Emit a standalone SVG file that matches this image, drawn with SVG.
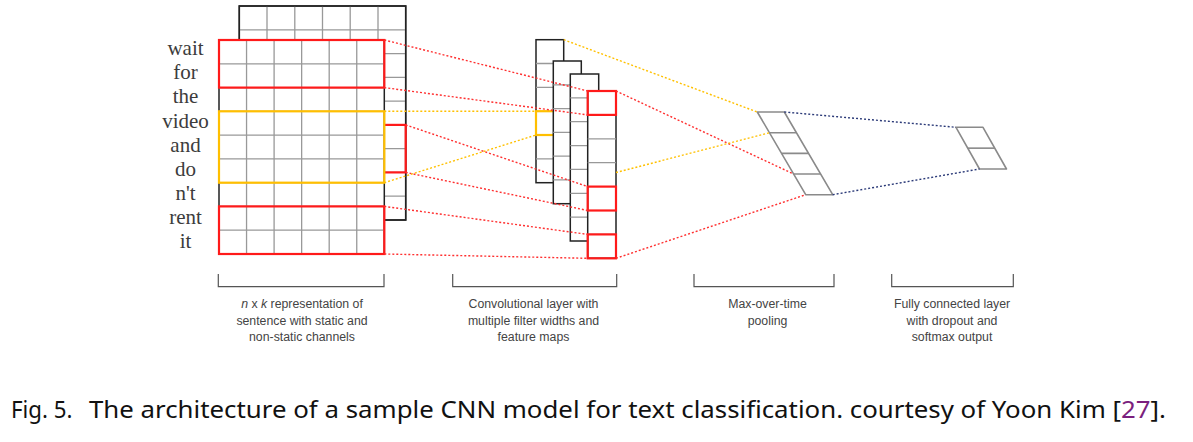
<svg xmlns="http://www.w3.org/2000/svg" width="1193" height="442" viewBox="0 0 1193 442">
<style>
.word{font-family:"Liberation Serif","DejaVu Serif",serif;font-size:21px;fill:#3c3c3c;text-anchor:middle}
.lbl{font-family:"Liberation Sans",Arial,sans-serif;font-size:12.3px;fill:#444;text-anchor:middle}
.cap{font-family:"Noto Sans","DejaVu Sans",sans-serif;font-size:23.4px;fill:#111}
.outline{fill:#fff;stroke:#222;stroke-width:1.5}
.grid{fill:none;stroke:#999;stroke-width:1.3}
.redbox{fill:none;stroke:#ff1a1a;stroke-width:2.2}
.yelbox{fill:none;stroke:#ffbf00;stroke-width:2.2}
.pool{fill:none;stroke:#8a8a8a;stroke-width:1.6;stroke-linejoin:round}
.br{fill:none;stroke:#555;stroke-width:1.2}
.dr{stroke:#ff3030;stroke-width:1.4;stroke-dasharray:2 2;fill:none}
.dy{stroke:#ffc000;stroke-width:1.4;stroke-dasharray:2 2;fill:none}
.dn{stroke:#2b3a78;stroke-width:1.4;stroke-dasharray:2 2;fill:none}
</style>
<rect width="1193" height="442" fill="#fff"/>

<g id="words">
<text class="word" x="185.5" y="55">wait</text>
<text class="word" x="185.5" y="79.2">for</text>
<text class="word" x="185.5" y="103.3">the</text>
<text class="word" x="185.5" y="127.5">video</text>
<text class="word" x="185.5" y="151.6">and</text>
<text class="word" x="185.5" y="175.8">do</text>
<text class="word" x="185.5" y="199.9">n't</text>
<text class="word" x="185.5" y="224">rent</text>
<text class="word" x="185.5" y="248.2">it</text>
</g>

<g id="static-channel">
<rect class="outline" x="239.3" y="6" width="166.4" height="214"/>
<path class="grid" d="M267,6V220M294.8,6V220M322.5,6V220M350.2,6V220M378,6V220M239.3,29.8H405.7M239.3,53.6H405.7M239.3,77.3H405.7M239.3,101.1H405.7M239.3,124.9H405.7M239.3,148.7H405.7M239.3,172.4H405.7M239.3,196.2H405.7"/>
<rect class="outline" x="239.3" y="6" width="166.4" height="214" style="fill:none"/>
<rect class="redbox" x="239.3" y="124.9" width="166.4" height="47.5"/>
</g>

<g id="nonstatic-channel">
<rect class="outline" x="219" y="40" width="165.3" height="214"/>
<path class="grid" d="M246.55,40V254M274.1,40V254M301.65,40V254M329.2,40V254M356.75,40V254M219,63.8H384.3M219,87.6H384.3M219,111.3H384.3M219,135.1H384.3M219,158.9H384.3M219,182.7H384.3M219,206.4H384.3M219,230.2H384.3"/>
<rect class="redbox" x="219" y="40" width="165.3" height="47.6"/>
<rect class="yelbox" x="219" y="111.3" width="165.3" height="71.4"/>
<rect class="redbox" x="219" y="206.4" width="165.3" height="47.6"/>
</g>

<g id="feature-map-1">
<rect class="outline" x="536" y="39.7" width="27.7" height="143"/>
<path class="grid" d="M536,63.5H563.7M536,87.4H563.7M536,135H563.7M536,158.9H563.7"/>
<rect class="yelbox" x="536" y="111.2" width="27.7" height="23.8"/>
</g>
<g id="feature-map-2">
<rect class="outline" x="553.3" y="61" width="28" height="142.7"/>
<path class="grid" d="M553.3,84.8H581.3M553.3,108.6H581.3M553.3,132.3H581.3M553.3,156.1H581.3M553.3,179.9H581.3"/>
</g>
<g id="feature-map-3">
<rect class="outline" x="570.3" y="74" width="28.4" height="167"/>
<path class="grid" d="M570.3,97.9H598.7M570.3,121.7H598.7M570.3,145.6H598.7M570.3,169.4H598.7M570.3,193.3H598.7M570.3,217.1H598.7"/>
</g>
<g id="feature-map-4">
<rect class="outline" x="587.7" y="91" width="28.3" height="167.3"/>
<path class="grid" d="M587.7,138.8H616M587.7,162.7H616M587.7,234.4H616"/>
<rect class="redbox" x="587.7" y="91" width="28.3" height="23.9"/>
<rect class="redbox" x="587.7" y="186.6" width="28.3" height="23.9"/>
<rect class="redbox" x="587.7" y="234.4" width="28.3" height="23.9"/>
</g>

<g id="max-pooling">
<polygon class="pool" points="757.3,112 784.3,112 832.7,194.7 805.7,194.7"/>
<path class="pool" d="M769.4,132.7H796.4M781.5,153.35H808.5M793.6,174H820.6"/>
</g>

<g id="fully-connected">
<polygon class="pool" points="956,127.3 983,127.3 1006.5,169 979.5,169"/>
<path class="pool" d="M967.75,148.15H994.75"/>
</g>

<g id="connectors">
<path class="dr" d="M384.3,40L587.7,91"/>
<path class="dr" d="M384.3,87.6L587.7,114.9"/>
<path class="dr" d="M405.7,124.9L587.7,186.6"/>
<path class="dr" d="M405.7,172.4L587.7,210.5"/>
<path class="dr" d="M384.3,206.4L587.7,234.4"/>
<path class="dr" d="M384.3,254L587.7,258.3"/>
<path class="dr" d="M616,91L793.6,174"/>
<path class="dr" d="M616,258.3L805.7,194.7"/>
<path class="dy" d="M384.3,111.3L536,111.3"/>
<path class="dy" d="M384.3,182.7L536,135"/>
<path class="dy" d="M563.7,39.7L757.3,112"/>
<path class="dy" d="M616,172.5L769.4,132.7"/>
<path class="dn" d="M784.3,112L956,127.3"/>
<path class="dn" d="M832.7,194.7L979.5,169"/>
</g>

<g id="brackets">
<path class="br" d="M218.3,274V286.7H384V274"/>
<path class="br" d="M452.7,274V286.7H616.7V274"/>
<path class="br" d="M694,274V286.7H834V274"/>
<path class="br" d="M891.7,274V286.7H1013.3V274"/>
</g>

<g id="labels">
<text class="lbl" x="302" y="308"><tspan font-style="italic">n</tspan> x <tspan font-style="italic">k</tspan> representation of</text>
<text class="lbl" x="302" y="324.5">sentence with static and</text>
<text class="lbl" x="302" y="341">non-static channels</text>
<text class="lbl" x="533.5" y="308">Convolutional layer with</text>
<text class="lbl" x="533.5" y="324.5">multiple filter widths and</text>
<text class="lbl" x="533.5" y="341">feature maps</text>
<text class="lbl" x="767.5" y="308">Max-over-time</text>
<text class="lbl" x="767.5" y="324.5">pooling</text>
<text class="lbl" x="952" y="308">Fully connected layer</text>
<text class="lbl" x="952" y="324.5">with dropout and</text>
<text class="lbl" x="952" y="341">softmax output</text>
</g>

<g id="caption">
<text class="cap" x="11" y="418.3" textLength="61.5" lengthAdjust="spacingAndGlyphs">Fig. 5.</text>
<text class="cap" x="89" y="418.3" textLength="1077" lengthAdjust="spacingAndGlyphs">The architecture of a sample CNN model for text classification. courtesy of Yoon Kim [<tspan fill="#7b1f7e">27</tspan>].</text>
</g>
</svg>
